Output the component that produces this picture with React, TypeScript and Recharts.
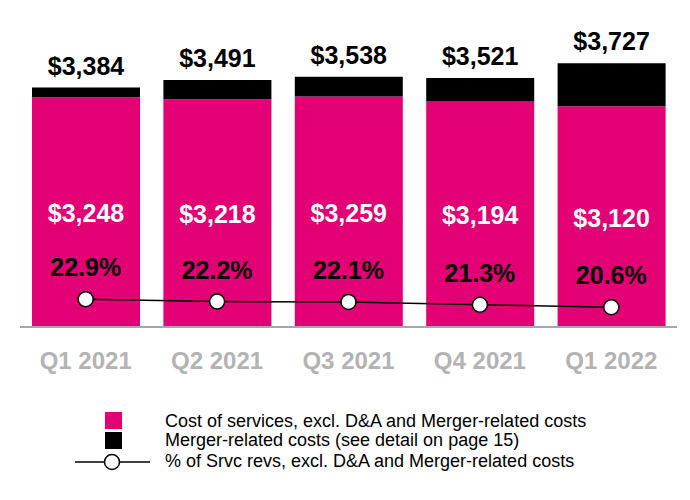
import React from 'react';
import { ComposedChart, Bar, Line, XAxis, YAxis, LabelList } from 'recharts';

const quarters = ['Q1 2021', 'Q2 2021', 'Q3 2021', 'Q4 2021', 'Q1 2022'];
const costOfServices = [3248, 3218, 3259, 3194, 3120];
const mergerCosts = [136, 273, 279, 327, 607];
const totals = [3384, 3491, 3538, 3521, 3727];
const pctOfServiceRevenue = [22.9, 22.2, 22.1, 21.3, 20.6];

const MAGENTA = '#E20074';
const FONT = '"Liberation Sans", Arial, Helvetica, sans-serif';

const chartData = quarters.map((q, i) => ({
  quarter: q,
  cost: costOfServices[i],
  merger: mergerCosts[i],
  total: totals[i],
  pct: pctOfServiceRevenue[i],
}));

const money = (v: number) => '$' + v.toLocaleString('en-US');

// white value in the middle of the magenta segment
const CostLabel = (props: any) => {
  const { x, y, width, height, value } = props;
  return (
    <text x={x + width / 2} y={y + height / 2 + 10} textAnchor="middle" fill="#fff"
      fontFamily={FONT} fontWeight="bold" fontSize={25}>
      {money(value)}
    </text>
  );
};

// total sits above the black cap
const TotalLabel = (props: any) => {
  const { x, y, width, value } = props;
  return (
    <text x={x + width / 2} y={y - 13} textAnchor="middle" fill="#000"
      fontFamily={FONT} fontWeight="bold" fontSize={25}>
      {money(value)}
    </text>
  );
};

const PctLabel = (props: any) => {
  const { x, y, value } = props;
  return (
    <text x={x} y={y - 23} textAnchor="middle" fill="#000"
      fontFamily={FONT} fontWeight="bold" fontSize={25}>
      {value.toFixed(1)}%
    </text>
  );
};

const QuarterTick = (props: any) => {
  const { x, y, payload } = props;
  return (
    <text x={x} y={y + 34} textAnchor="middle" fill="#B3B3B3"
      fontFamily={FONT} fontWeight="bold" fontSize={24}>
      {payload.value}
    </text>
  );
};

const Dot = (props: any) => {
  const { cx, cy } = props;
  return <circle cx={cx} cy={cy} r={7.5} fill="#fff" stroke="#000" strokeWidth={1.5} />;
};

const ChartLegend = () => (
  <svg width={690} height={80} style={{ position: 'absolute', left: 0, top: 400 }}>
    <g fontFamily={FONT} fontSize={18} fill="#000">
      <rect x={105} y={12} width={17} height={17} fill={MAGENTA} />
      <text x={165} y={27}>Cost of services, excl. D&amp;A and Merger-related costs</text>
      <rect x={105} y={32} width={17} height={17} fill="#000" />
      <text x={165} y={46}>Merger-related costs (see detail on page 15)</text>
      <line x1={75} y1={62} x2={150} y2={62} stroke="#000" strokeWidth={1.5} />
      <circle cx={112} cy={62} r={7.5} fill="#fff" stroke="#000" strokeWidth={1.5} />
      <text x={165} y={67}>% of Srvc revs, excl. D&amp;A and Merger-related costs</text>
    </g>
  </svg>
);

export default function App() {
  return (
    <div style={{ position: 'absolute', left: 0, top: 0, width: 690, height: 500, background: '#fff' }}>
      <ComposedChart
        width={690}
        height={500}
        data={chartData}
        margin={{ top: 44, right: 13, left: 20, bottom: 133 }}
      >
        <XAxis
          dataKey="quarter"
          height={40}
          axisLine={{ stroke: '#A6A6A6', strokeWidth: 2 }}
          tickLine={false}
          tick={<QuarterTick />}
          interval={0}
        />
        <YAxis yAxisId="usd" hide domain={[0, 4000]} />
        <YAxis yAxisId="pct" hide orientation="right" domain={[14.9, 96.2]} />
        <Bar dataKey="cost" yAxisId="usd" stackId="a" fill={MAGENTA} barSize={108} isAnimationActive={false}>
          <LabelList dataKey="cost" content={<CostLabel />} />
        </Bar>
        <Bar dataKey="merger" yAxisId="usd" stackId="a" fill="#000" barSize={108} isAnimationActive={false}>
          <LabelList dataKey="total" content={<TotalLabel />} />
        </Bar>
        <Line
          dataKey="pct"
          yAxisId="pct"
          type="linear"
          stroke="#000"
          strokeWidth={1.5}
          dot={<Dot />}
          activeDot={false}
          isAnimationActive={false}
        >
          <LabelList dataKey="pct" content={<PctLabel />} />
        </Line>
      </ComposedChart>
      <ChartLegend />
    </div>
  );
}
